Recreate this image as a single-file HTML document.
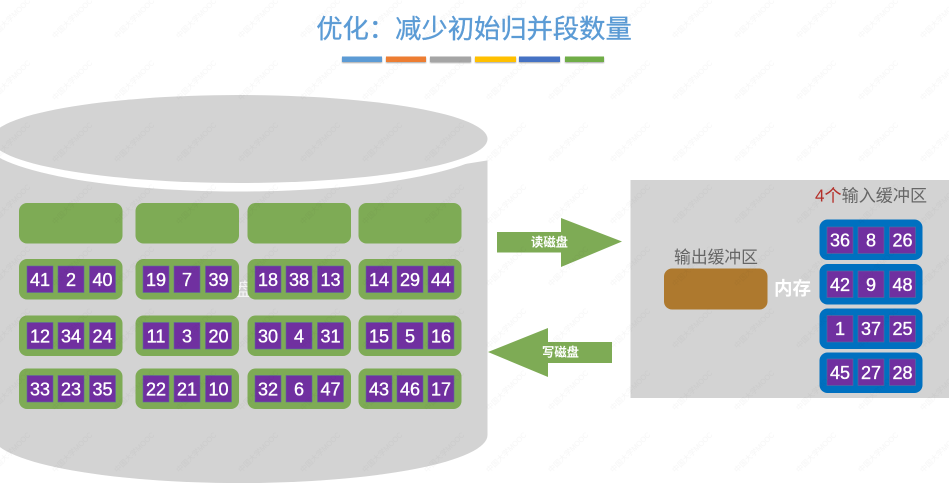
<!DOCTYPE html>
<html lang="zh">
<head>
<meta charset="utf-8">
<style>
html,body{margin:0;padding:0;width:949px;height:492px;overflow:hidden;background:#fff}
svg{display:block}
text{font-family:"Liberation Sans","Noto Sans CJK SC",sans-serif}
.n{font-size:18px;fill:#fff;stroke:#fff;stroke-width:.35;text-anchor:middle}
.c{fill:#7030a0;stroke:#5b6aa0;stroke-width:.6}
.g{fill:#7eab55}
.b{fill:#0070c0}
.wm{font-size:7.5px;fill:#000;fill-opacity:.035;text-anchor:middle}
</style>
</head>
<body>
<svg width="949" height="492" viewBox="0 0 949 492" xmlns="http://www.w3.org/2000/svg">
<defs>
<filter id="s" x="-10%" y="-50%" width="120%" height="250%"><feDropShadow dx="0" dy="1" stdDeviation=".8" flood-color="#000" flood-opacity=".35"/></filter>
<pattern id="wmp" x="-21" y="-13" width="62" height="62" patternUnits="userSpaceOnUse">
<text class="wm" transform="translate(31,31) rotate(-45)" y="3">中国大学MOOC</text>
</pattern>
</defs>
<rect width="949" height="492" fill="#fff"/>

<!-- Title -->
<text x="474" y="38" font-size="26.3" fill="#5b9bd5" stroke="#5b9bd5" stroke-width=".35" text-anchor="middle">优化：减少初始归并段数量</text>
<g filter="url(#s)">
<rect x="342" y="56.5" width="40" height="5.5" fill="#5b9bd5"/>
<rect x="386" y="56.5" width="40" height="5.5" fill="#ed7d31"/>
<rect x="430" y="56.5" width="41" height="5.5" fill="#a5a5a5"/>
<rect x="475" y="56.5" width="41" height="5.5" fill="#ffc000"/>
<rect x="519" y="56.5" width="41" height="5.5" fill="#4472c4"/>
<rect x="565" y="56.5" width="39" height="5.5" fill="#70ad47"/>
</g>

<!-- Cylinder -->
<path d="M-8 139 V435 A247.5 48 0 0 0 487.5 435 V139 Z" fill="#d3d3d3"/>
<ellipse cx="239.5" cy="139" rx="257" ry="52.5" fill="#fff"/>
<path d="M465 130 H490 V160 L465 164 Z" fill="#fff"/>
<ellipse cx="239.5" cy="139" rx="248" ry="44" fill="#d3d3d3"/>
<text x="245" y="296" font-size="18" fill="#fff" fill-opacity=".75" text-anchor="middle">盘</text>

<!-- Disk groups -->
<g class="g">
<rect x="19" y="203" width="103.5" height="40.5" rx="8"/>
<rect x="135.5" y="203" width="103.5" height="40.5" rx="8"/>
<rect x="247.5" y="203" width="103.5" height="40.5" rx="8"/>
<rect x="358.5" y="203" width="103" height="40.5" rx="8"/>
<rect x="19" y="259" width="103.5" height="40.5" rx="8"/>
<rect x="135.5" y="259" width="103.5" height="40.5" rx="8"/>
<rect x="247.5" y="259" width="103.5" height="40.5" rx="8"/>
<rect x="358.5" y="259" width="103" height="40.5" rx="8"/>
<rect x="19" y="315.5" width="103.5" height="40.5" rx="8"/>
<rect x="135.5" y="315.5" width="103.5" height="40.5" rx="8"/>
<rect x="247.5" y="315.5" width="103.5" height="40.5" rx="8"/>
<rect x="358.5" y="315.5" width="103" height="40.5" rx="8"/>
<rect x="19" y="368.5" width="103.5" height="40.5" rx="8"/>
<rect x="135.5" y="368.5" width="103.5" height="40.5" rx="8"/>
<rect x="247.5" y="368.5" width="103.5" height="40.5" rx="8"/>
<rect x="358.5" y="368.5" width="103" height="40.5" rx="8"/>
</g>

<g class="c">
<rect x="27" y="266" width="26" height="26.5"/><rect x="58" y="266" width="26" height="26.5"/><rect x="89.5" y="266" width="26" height="26.5"/>
<rect x="143" y="266" width="26" height="26.5"/><rect x="174" y="266" width="26" height="26.5"/><rect x="205.5" y="266" width="26" height="26.5"/>
<rect x="255" y="266" width="26" height="26.5"/><rect x="286" y="266" width="26" height="26.5"/><rect x="317.5" y="266" width="26" height="26.5"/>
<rect x="366" y="266" width="26" height="26.5"/><rect x="397" y="266" width="26" height="26.5"/><rect x="428" y="266" width="26" height="26.5"/>
<rect x="27" y="322.5" width="26" height="26.5"/><rect x="58" y="322.5" width="26" height="26.5"/><rect x="89.5" y="322.5" width="26" height="26.5"/>
<rect x="143" y="322.5" width="26" height="26.5"/><rect x="174" y="322.5" width="26" height="26.5"/><rect x="205.5" y="322.5" width="26" height="26.5"/>
<rect x="255" y="322.5" width="26" height="26.5"/><rect x="286" y="322.5" width="26" height="26.5"/><rect x="317.5" y="322.5" width="26" height="26.5"/>
<rect x="366" y="322.5" width="26" height="26.5"/><rect x="397" y="322.5" width="26" height="26.5"/><rect x="428" y="322.5" width="26" height="26.5"/>
<rect x="27" y="375.5" width="26" height="26.5"/><rect x="58" y="375.5" width="26" height="26.5"/><rect x="89.5" y="375.5" width="26" height="26.5"/>
<rect x="143" y="375.5" width="26" height="26.5"/><rect x="174" y="375.5" width="26" height="26.5"/><rect x="205.5" y="375.5" width="26" height="26.5"/>
<rect x="255" y="375.5" width="26" height="26.5"/><rect x="286" y="375.5" width="26" height="26.5"/><rect x="317.5" y="375.5" width="26" height="26.5"/>
<rect x="366" y="375.5" width="26" height="26.5"/><rect x="397" y="375.5" width="26" height="26.5"/><rect x="428" y="375.5" width="26" height="26.5"/>
</g>

<g class="n">
<text x="40" y="286">41</text><text x="71" y="286">2</text><text x="102.5" y="286">40</text>
<text x="156" y="286">19</text><text x="187" y="286">7</text><text x="218.5" y="286">39</text>
<text x="268" y="286">18</text><text x="299" y="286">38</text><text x="330.5" y="286">13</text>
<text x="379" y="286">14</text><text x="410" y="286">29</text><text x="441" y="286">44</text>
<text x="40" y="342.5">12</text><text x="71" y="342.5">34</text><text x="102.5" y="342.5">24</text>
<text x="156" y="342.5">11</text><text x="187" y="342.5">3</text><text x="218.5" y="342.5">20</text>
<text x="268" y="342.5">30</text><text x="299" y="342.5">4</text><text x="330.5" y="342.5">31</text>
<text x="379" y="342.5">15</text><text x="410" y="342.5">5</text><text x="441" y="342.5">16</text>
<text x="40" y="395.5">33</text><text x="71" y="395.5">23</text><text x="102.5" y="395.5">35</text>
<text x="156" y="395.5">22</text><text x="187" y="395.5">21</text><text x="218.5" y="395.5">10</text>
<text x="268" y="395.5">32</text><text x="299" y="395.5">6</text><text x="330.5" y="395.5">47</text>
<text x="379" y="395.5">43</text><text x="410" y="395.5">46</text><text x="441" y="395.5">17</text>
</g>

<!-- Arrows -->
<path d="M497 232 H561 V218 L622 241.5 L561 267 V252.5 H497 Z" fill="#7eab55"/>
<text x="549.5" y="246.5" font-size="12.3" font-weight="700" fill="#fff" text-anchor="middle">读磁盘</text>
<path d="M612 342 H548 V328 L488 352 L548 377 V363 H612 Z" fill="#7eab55"/>
<text x="560.5" y="356.5" font-size="12.3" font-weight="700" fill="#fff" text-anchor="middle">写磁盘</text>

<!-- Memory -->
<rect x="630.5" y="180" width="319" height="218" fill="#d3d3d3"/>
<text x="716" y="263" font-size="16.8" fill="#666" text-anchor="middle">输出缓冲区</text>
<rect x="664" y="268.5" width="103.5" height="41" rx="8" fill="#ae792e"/>
<text x="792.5" y="295" font-size="18.5" font-weight="700" fill="#fff" text-anchor="middle">内存</text>
<text x="815" y="201.5" font-size="17.1"><tspan fill="#b5302a">4个</tspan><tspan fill="#666">输入缓冲区</tspan></text>

<g class="b">
<rect x="819.5" y="219.5" width="103" height="40.5" rx="8"/>
<rect x="819.5" y="264" width="103" height="40.5" rx="8"/>
<rect x="819.5" y="308.5" width="103" height="40.5" rx="8"/>
<rect x="819.5" y="352.5" width="103" height="40.5" rx="8"/>
</g>
<g class="c">
<rect x="827" y="227" width="26" height="26.5"/><rect x="858" y="227" width="26" height="26.5"/><rect x="889.5" y="227" width="26" height="26.5"/>
<rect x="827" y="271" width="26" height="26.5"/><rect x="858" y="271" width="26" height="26.5"/><rect x="889.5" y="271" width="26" height="26.5"/>
<rect x="827" y="315.5" width="26" height="26.5"/><rect x="858" y="315.5" width="26" height="26.5"/><rect x="889.5" y="315.5" width="26" height="26.5"/>
<rect x="827" y="359" width="26" height="26.5"/><rect x="858" y="359" width="26" height="26.5"/><rect x="889.5" y="359" width="26" height="26.5"/>
</g>
<g class="n">
<text x="840" y="246.5">36</text><text x="871" y="246.5">8</text><text x="902.5" y="246.5">26</text>
<text x="840" y="291">42</text><text x="871" y="291">9</text><text x="902.5" y="291">48</text>
<text x="840" y="335">1</text><text x="871" y="335">37</text><text x="902.5" y="335">25</text>
<text x="840" y="379">45</text><text x="871" y="379">27</text><text x="902.5" y="379">28</text>
</g>

<!-- Watermark -->
<rect width="949" height="492" fill="url(#wmp)"/>
</svg>
</body>
</html>
